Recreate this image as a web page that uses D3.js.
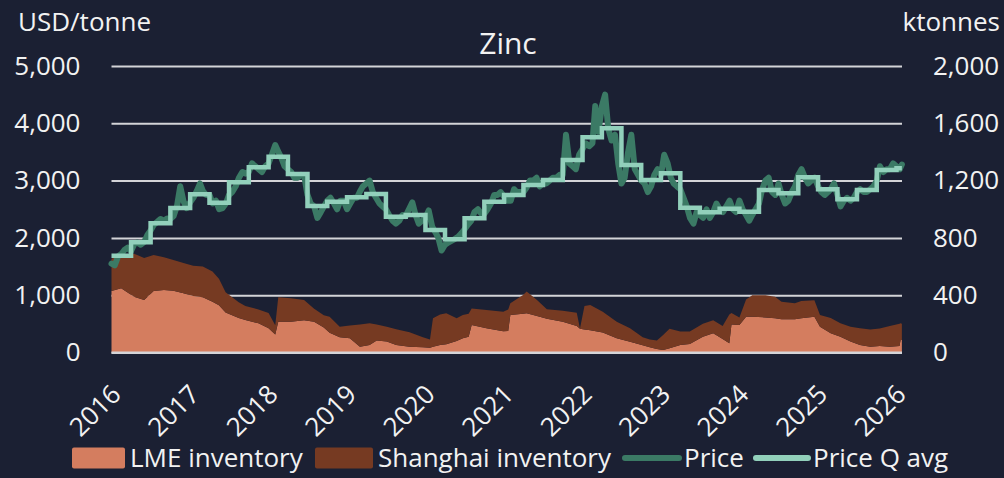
<!DOCTYPE html>
<html>
<head>
<meta charset="utf-8">
<script src="https://cdn.jsdelivr.net/npm/d3@7"></script>
<style>
  body { margin: 0; background: #1b2033; }
  svg text { font-family: "Open Sans", sans-serif; fill: #f2f2f2; }
</style>
</head>
<body>
<svg id="chart" width="1004" height="478"></svg>
<script>
// price, semi-monthly (1st and 16th), USD/tonne
const price2016 = [1550,1520,1680,1720,1790,1830,1770,1890,1920,1880,1930,2050,2130,2230,2280,2330,2300,2340,2330,2380,2560,2900,2640,2520];
const price2017 = [2620,2700,2820,2950,2820,2750,2750,2600,2650,2500,2520,2600,2750,2800,2900,3050,3150,3120,3150,3300,3250,3200,3150,3250];
const price2018 = [3300,3450,3620,3500,3400,3250,3200,3150,3050,3050,3100,3080,2750,2600,2550,2350,2450,2550,2650,2700,2600,2500,2650,2650];
const price2019 = [2500,2600,2700,2700,2800,2900,2950,3000,2800,2700,2600,2550,2500,2400,2300,2250,2300,2400,2380,2500,2620,2400,2250,2300];
const price2020 = [2350,2480,2200,2100,2000,1780,1880,1920,1950,1980,2020,2080,2150,2230,2300,2450,2500,2430,2420,2500,2600,2750,2750,2800];
const price2021 = [2720,2650,2650,2850,2800,2800,2800,2880,3000,3000,3050,2900,2950,2950,3000,3050,3050,3100,3100,3800,3300,3250,3200,3450];
const price2022 = [3550,3650,3600,3650,4300,3850,4300,4500,3900,3700,3800,3300,2950,3050,3500,3800,3200,3100,3000,2950,2800,2900,3100,3200];
const price2023 = [3100,3450,3300,3050,2950,2900,2850,2700,2550,2350,2250,2450,2400,2350,2500,2350,2450,2600,2500,2450,2550,2650,2500,2450];
const price2024 = [2650,2500,2400,2300,2400,2500,2600,2850,3000,3050,2800,2750,2950,2750,2600,2650,2800,2900,3100,3200,3050,2950,3000,3050];
const price2025 = [2900,2800,2750,2800,2850,2950,2750,2550,2650,2700,2650,2700,2800,2850,2800,2800,2850,2900,3000,3250,3150,3200,3200,3300];
const price2026 = [3250,3200];
const lastDate = "2026-01-26";
const lastPrice = 3280;

// quarterly average price, Q1 2016 .. Q1 2026
const priceQ = [1690,1923,2254,2522, 2760,2615,2970,3231, 3418,3115,2557,2633,
  2708,2766,2371,2400, 2138,1975,2341,2633, 2749,2923,3010,3360,
  3755,3912,3272,3010, 3127,2528,2446,2510, 2458,2836,2778,3057,
  2848,2673,2836,3185, 3214];

// inventories, ktonnes
const invDates = ["2016-01-01","2016-02-15","2016-04-15","2016-06-01","2016-07-15","2016-09-01","2016-10-15","2016-12-01",
  "2017-01-15","2017-03-01","2017-04-15","2017-05-15","2017-06-15","2017-08-15","2017-09-15","2017-11-15",
  "2018-01-01","2018-02-01","2018-02-15","2018-04-15","2018-06-15","2018-08-01","2018-09-15","2018-10-12","2018-11-28",
  "2019-01-14","2019-03-02","2019-04-16","2019-05-19","2019-07-05","2019-08-18","2019-10-19","2019-12-20",
  "2020-01-22","2020-02-05","2020-03-09","2020-04-07","2020-05-25","2020-06-23","2020-07-20","2020-08-03","2020-10-11","2020-12-28",
  "2021-01-20","2021-01-30","2021-03-30","2021-04-16","2021-06-03","2021-07-19","2021-10-01","2021-12-05","2021-12-20",
  "2022-01-10","2022-02-06","2022-04-05","2022-06-09","2022-08-10","2022-10-08","2022-11-10","2022-12-13",
  "2023-01-11","2023-02-10","2023-04-01","2023-05-15","2023-07-15","2023-09-01","2023-10-15","2023-11-15","2023-11-25",
  "2024-01-01","2024-02-01","2024-03-01","2024-05-01","2024-06-15","2024-07-15","2024-09-15","2024-10-15","2024-12-15",
  "2025-01-10","2025-03-01","2025-04-15","2025-06-01","2025-07-15","2025-09-01","2025-10-15","2025-12-01",
  "2026-01-15","2026-01-20","2026-01-26"];
const lmeStock = [430,448,390,366,430,436,431,413,
  394,385,355,330,280,240,227,204,
  170,125,215,215,225,215,175,138,106,
  99,41,52,83,76,52,41,36,
  34,40,52,58,80,99,110,192,170,148,
  150,262,270,274,255,235,215,185,165,
  160,155,140,99,75,50,36,25,
  17,30,52,60,110,134,95,64,195,
  192,250,250,245,239,232,232,239,250,
  180,134,110,76,52,41,45,40,
  45,88,88];
const shanghaiStock = [225,233,300,294,250,229,214,212,
  211,215,210,185,140,110,98,96,
  105,65,170,163,141,90,85,112,74,
  89,154,152,112,104,110,101,70,
  56,199,213,216,159,163,160,116,127,137,
  150,81,131,151,111,67,77,93,3,
  165,177,145,116,94,56,54,58,
  105,135,94,86,90,91,90,201,80,
  53,120,150,155,151,123,111,121,115,
  82,106,95,104,117,119,123,145,
  155,117,112];

const ticksLeft = [0,1000,2000,3000,4000,5000];
const ticksRight = [0,400,800,1200,1600,2000];
const yearTicks = d3.range(2016, 2027);

const colors = { lme: "#d47d5f", sh: "#763a22", price: "#3b7a65", q: "#92d0bb", grid: "#d4d4d8" };

const svg = d3.select("#chart");
const W = +svg.attr("width"), H = +svg.attr("height");
svg.append("rect").attr("width", W).attr("height", H).attr("fill", "#1b2033");

const plot = { left: 111.5, right: 902, top: 66, bottom: 352.5 };

const x = d3.scaleTime()
  .domain([new Date(2016, 0, 1), new Date(2026, 0, 1)])
  .range([plot.left, 896.5]);
const yL = d3.scaleLinear().domain([0, 5000]).range([plot.bottom, plot.top]);
const yR = d3.scaleLinear().domain([0, 2000]).range([plot.bottom, plot.top]);

const parse = d3.timeParse("%Y-%m-%d");

// build price rows
const priceAll = [].concat(price2016, price2017, price2018, price2019, price2020,
  price2021, price2022, price2023, price2024, price2025, price2026);
const priceRows = priceAll.map((v, i) => ({
  date: new Date(2016, Math.floor(i / 2), i % 2 ? 16 : 1), v
}));
priceRows.push({ date: parse(lastDate), v: lastPrice });

const qRows = priceQ.map((v, i) => ({ date: new Date(2016, i * 3, 1), v }));
qRows.push({ date: parse(lastDate), v: priceQ[priceQ.length - 1] });

const invRows = invDates.map((d, i) => ({
  date: parse(d), lme: lmeStock[i], sh: shanghaiStock[i]
}));

// gridlines
const grid = svg.append("g").attr("transform", `translate(${plot.left},0)`)
  .call(d3.axisLeft(yL).tickValues(ticksLeft).tickSize(-(plot.right - plot.left)).tickFormat(""));
grid.select(".domain").remove();
grid.selectAll("line").attr("stroke", colors.grid).attr("stroke-width", 2);

// stacked inventories
svg.append("path").datum(invRows)
  .attr("fill", colors.lme)
  .attr("d", d3.area().x(d => x(d.date)).y0(yR(0)).y1(d => yR(d.lme)));
svg.append("path").datum(invRows)
  .attr("fill", colors.sh)
  .attr("d", d3.area().x(d => x(d.date)).y0(d => yR(d.lme)).y1(d => yR(d.lme + d.sh)));

// zero line on top of areas
svg.append("line").attr("x1", plot.left).attr("x2", plot.right)
  .attr("y1", yL(0)).attr("y2", yL(0))
  .attr("stroke", colors.grid).attr("stroke-width", 2);

// price lines
svg.append("path").datum(priceRows)
  .attr("fill", "none").attr("stroke", colors.price).attr("stroke-width", 6)
  .attr("stroke-linejoin", "round").attr("stroke-linecap", "round")
  .attr("d", d3.line().x(d => x(d.date)).y(d => yL(d.v)));
svg.append("path").datum(qRows)
  .attr("fill", "none").attr("stroke", colors.q).attr("stroke-width", 4.5)
  .attr("d", d3.line().curve(d3.curveStepAfter).x(d => x(d.date)).y(d => yL(d.v)));

// axes labels
const fs = 26;
const axL = svg.append("g").attr("transform", `translate(${plot.left},0)`)
  .call(d3.axisLeft(yL).tickValues(ticksLeft).tickSize(0).tickPadding(31).tickFormat(d3.format(",")));
const axR = svg.append("g").attr("transform", `translate(${plot.right},0)`)
  .call(d3.axisRight(yR).tickValues(ticksRight).tickSize(0).tickPadding(31).tickFormat(d3.format(",")));
const axX = svg.append("g").attr("transform", `translate(0,${plot.bottom})`)
  .call(d3.axisBottom(x).tickValues(yearTicks.map(y => new Date(y, 0, 1))).tickSize(0).tickFormat(d3.timeFormat("%Y")));
axX.selectAll("text")
  .attr("text-anchor", "end").attr("y", 0).attr("dy", "0.35em")
  .attr("transform", "translate(4,37) rotate(-45)");
[axL, axR, axX].forEach(g => {
  g.select(".domain").remove();
  g.selectAll("text").attr("font-size", fs).attr("font-family", null).attr("fill", "#f2f2f2");
});

// titles
svg.append("text").attr("x", 508).attr("y", 54).attr("text-anchor", "middle")
  .attr("font-size", 30).text("Zinc");
svg.append("text").attr("x", 18).attr("y", 31).attr("font-size", fs).text("USD/tonne");
svg.append("text").attr("x", 1000).attr("y", 31).attr("text-anchor", "end")
  .attr("font-size", fs).text("ktonnes");

// legend
const legendItems = [
  { name: "LME inventory", type: "rect", color: colors.lme, x: 72, w: 53 },
  { name: "Shanghai inventory", type: "rect", color: colors.sh, x: 315, w: 58 },
  { name: "Price", type: "line", color: colors.price, x: 625, w: 54 },
  { name: "Price Q avg", type: "line", color: colors.q, x: 756, w: 52 }
];
const ly = 458;
const lg = svg.append("g");
legendItems.forEach(it => {
  if (it.type === "rect") {
    lg.append("rect").attr("x", it.x).attr("y", ly - 10.5).attr("width", it.w).attr("height", 21)
      .attr("rx", 2).attr("fill", it.color);
  } else {
    lg.append("line").attr("x1", it.x).attr("x2", it.x + it.w).attr("y1", ly).attr("y2", ly)
      .attr("stroke", it.color).attr("stroke-width", 6).attr("stroke-linecap", "round");
  }
  lg.append("text").attr("x", it.x + it.w + 5).attr("y", ly).attr("dy", "0.35em")
    .attr("font-size", fs).text(it.name);
});
</script>
</body>
</html>
